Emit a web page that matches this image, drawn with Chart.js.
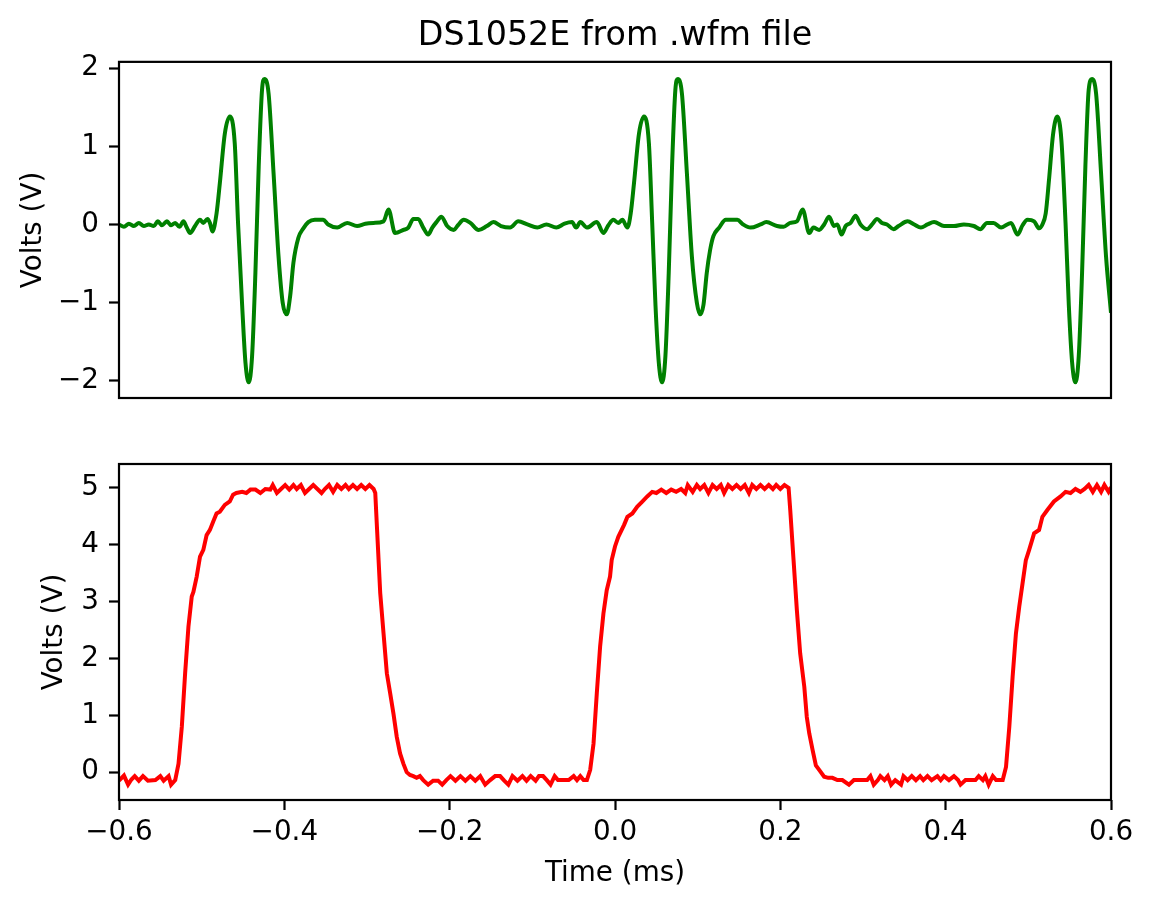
<!DOCTYPE html>
<html>
<head>
<meta charset="utf-8">
<script src="https://cdn.jsdelivr.net/npm/chart.js@4/dist/chart.umd.min.js"></script>
<style>
  body { margin: 0; background: #fff; }
  #wrap { position: relative; width: 1153px; height: 908px; }
  #top, #bottom { position: absolute; left: 0; }
  #top { top: 0; }
  #bottom { top: 431px; }
</style>
</head>
<body>
<div id="wrap">
  <canvas id="top" width="1153" height="431"></canvas>
  <canvas id="bottom" width="1153" height="477"></canvas>
</div>
<script>
// channel 1 (green), time in ms / volts
const timeCh1 = [
  -0.600,-0.594,-0.588,-0.582,-0.576,-0.570,-0.564,-0.558,-0.553,-0.548,
  -0.542,-0.537,-0.532,-0.527,-0.522,-0.518,-0.514,-0.508,-0.502,-0.498,
  -0.493,-0.490,-0.487,-0.482,-0.478,-0.472,-0.466,-0.460,-0.456,-0.451,
  -0.447,-0.443,-0.439,-0.435,-0.431,-0.427,-0.424,-0.419,-0.413,-0.407,
  -0.402,-0.397,-0.393,-0.389,-0.383,-0.377,-0.371,-0.363,-0.353,-0.347,
  -0.336,-0.324,-0.312,-0.302,-0.292,-0.280,-0.274,-0.266,-0.256,-0.250,
  -0.244,-0.238,-0.232,-0.226,-0.221,-0.216,-0.210,-0.203,-0.195,-0.190,
  -0.183,-0.175,-0.165,-0.155,-0.147,-0.138,-0.127,-0.117,-0.106,-0.094,
  -0.083,-0.071,-0.061,-0.052,-0.047,-0.042,-0.034,-0.022,-0.014,-0.008,
  -0.002,0.004,0.009,0.015,0.019,0.023,0.029,0.035,0.041,0.045,
  0.049,0.053,0.057,0.061,0.065,0.069,0.073,0.076,0.081,0.087,
  0.093,0.099,0.103,0.107,0.111,0.115,0.119,0.126,0.134,0.141,
  0.148,0.155,0.164,0.176,0.183,0.196,0.204,0.212,0.220,0.227,
  0.235,0.240,0.247,0.253,0.259,0.265,0.269,0.274,0.279,0.285,
  0.291,0.297,0.305,0.311,0.317,0.323,0.329,0.337,0.343,0.354,
  0.362,0.370,0.378,0.386,0.398,0.410,0.422,0.434,0.442,0.450,
  0.458,0.467,0.479,0.487,0.493,0.499,0.507,0.513,0.517,0.521,
  0.525,0.530,0.535,0.540,0.545,0.549,0.553,0.557,0.561,0.565,
  0.569,0.573,0.577,0.582,0.588,0.594,0.600
];
const voltsCh1 = [
  0.00,-0.03,0.01,-0.02,0.02,-0.02,0.00,-0.02,0.04,-0.01,
  0.04,-0.01,0.02,-0.03,0.04,-0.04,-0.11,-0.02,0.06,0.02,
  0.07,0.02,-0.09,0.14,0.53,1.16,1.38,1.04,0.02,-1.04,
  -1.77,-2.02,-1.68,-0.62,0.74,1.72,1.86,1.67,0.65,-0.41,
  -1.00,-1.15,-0.92,-0.49,-0.17,-0.05,0.03,0.06,0.06,0.00,
  -0.04,0.02,-0.02,0.01,0.02,0.04,0.19,-0.11,-0.07,-0.04,
  0.07,0.07,-0.04,-0.13,-0.04,0.03,0.10,-0.02,-0.07,-0.01,
  0.06,0.02,-0.07,-0.02,0.03,-0.02,-0.04,0.04,0.00,-0.04,
  0.00,-0.04,0.01,0.03,-0.04,0.03,-0.04,0.03,-0.11,-0.01,
  0.06,0.02,0.06,-0.04,0.14,0.53,1.16,1.38,1.04,0.02,
  -1.04,-1.77,-2.02,-1.68,-0.62,0.74,1.72,1.86,1.67,0.65,
  -0.41,-1.00,-1.15,-1.03,-0.62,-0.33,-0.15,-0.04,0.06,0.06,
  0.06,0.00,-0.04,0.00,0.03,-0.02,-0.03,0.02,0.04,0.19,
  -0.11,-0.04,-0.07,0.00,0.10,-0.02,0.00,-0.13,-0.02,0.02,
  0.11,0.00,-0.06,0.00,0.07,0.02,0.00,-0.06,-0.02,0.04,
  0.00,-0.04,0.00,0.03,-0.02,-0.02,0.00,-0.02,-0.06,0.02,
  0.02,-0.04,0.02,-0.13,-0.01,0.06,0.04,-0.05,0.00,0.14,
  0.57,1.16,1.38,1.08,0.02,-1.04,-1.77,-2.02,-1.68,-0.62,
  0.74,1.72,1.86,1.67,0.65,-0.41,-1.13
];

// channel 2 (red)
const timeCh2 = [
  -0.600,-0.594,-0.589,-0.585,-0.581,-0.576,-0.571,-0.565,-0.556,-0.550,
  -0.546,-0.540,-0.537,-0.532,-0.528,-0.524,-0.520,-0.516,-0.512,-0.510,
  -0.506,-0.502,-0.498,-0.494,-0.490,-0.486,-0.482,-0.478,-0.472,-0.466,
  -0.462,-0.458,-0.451,-0.446,-0.441,-0.435,-0.429,-0.423,-0.417,-0.414,
  -0.409,-0.404,-0.399,-0.394,-0.389,-0.385,-0.380,-0.375,-0.370,-0.365,
  -0.360,-0.355,-0.351,-0.346,-0.341,-0.336,-0.331,-0.326,-0.322,-0.317,
  -0.312,-0.307,-0.302,-0.297,-0.292,-0.290,-0.288,-0.284,-0.280,-0.276,
  -0.272,-0.268,-0.264,-0.260,-0.256,-0.252,-0.248,-0.244,-0.240,-0.236,
  -0.232,-0.226,-0.220,-0.214,-0.209,-0.204,-0.199,-0.193,-0.187,-0.181,
  -0.175,-0.169,-0.163,-0.157,-0.151,-0.145,-0.139,-0.134,-0.129,-0.124,
  -0.118,-0.112,-0.107,-0.102,-0.096,-0.092,-0.087,-0.082,-0.078,-0.073,
  -0.069,-0.062,-0.056,-0.050,-0.046,-0.042,-0.038,-0.034,-0.030,-0.026,
  -0.022,-0.018,-0.014,-0.010,-0.006,-0.004,0.000,0.004,0.011,0.015,
  0.021,0.027,0.033,0.039,0.045,0.050,0.056,0.062,0.068,0.074,
  0.080,0.085,0.088,0.094,0.099,0.103,0.108,0.113,0.118,0.123,
  0.128,0.132,0.137,0.142,0.147,0.152,0.157,0.162,0.166,0.171,
  0.176,0.181,0.186,0.191,0.195,0.200,0.205,0.210,0.212,0.216,
  0.220,0.224,0.229,0.232,0.235,0.239,0.243,0.247,0.253,0.258,
  0.263,0.269,0.275,0.283,0.289,0.297,0.305,0.309,0.313,0.318,
  0.321,0.326,0.330,0.334,0.339,0.346,0.349,0.354,0.359,0.364,
  0.369,0.373,0.378,0.383,0.390,0.394,0.398,0.404,0.410,0.415,
  0.418,0.424,0.430,0.436,0.440,0.445,0.448,0.452,0.457,0.461,
  0.469,0.473,0.477,0.481,0.485,0.489,0.493,0.497,0.501,0.507,
  0.513,0.517,0.523,0.531,0.539,0.545,0.551,0.557,0.563,0.568,
  0.573,0.578,0.583,0.588,0.592,0.597,0.600
];
const voltsCh2 = [
  -0.15,-0.06,-0.22,-0.13,-0.07,-0.15,-0.07,-0.15,-0.14,-0.07,
  -0.15,-0.07,-0.22,-0.14,0.15,0.80,1.74,2.56,3.09,3.17,
  3.44,3.79,3.91,4.17,4.26,4.41,4.55,4.58,4.70,4.76,
  4.88,4.91,4.93,4.91,4.97,4.97,4.91,4.98,4.97,5.05,
  4.91,4.98,5.05,4.97,5.05,4.98,5.05,4.91,4.98,5.05,
  4.98,4.91,4.98,5.05,4.93,5.05,4.98,5.05,4.98,5.05,
  4.98,5.05,4.98,5.05,4.98,4.91,4.32,3.15,2.44,1.74,
  1.39,1.03,0.62,0.33,0.15,0.00,-0.05,-0.07,-0.10,-0.07,
  -0.14,-0.22,-0.15,-0.15,-0.22,-0.14,-0.07,-0.15,-0.07,-0.15,
  -0.07,-0.15,-0.07,-0.22,-0.14,-0.07,-0.07,-0.15,-0.22,-0.07,
  -0.15,-0.07,-0.15,-0.07,-0.15,-0.07,-0.07,-0.15,-0.22,-0.07,
  -0.14,-0.14,-0.14,-0.07,-0.14,-0.07,-0.14,-0.14,0.04,0.50,
  1.39,2.21,2.79,3.20,3.44,3.73,3.97,4.14,4.35,4.49,
  4.55,4.67,4.76,4.85,4.93,4.91,4.97,4.91,4.97,4.93,
  4.98,4.91,5.05,4.93,5.05,4.98,5.05,4.91,5.05,4.98,
  5.05,4.91,5.05,4.98,5.05,4.98,5.05,4.91,5.05,4.98,
  5.05,4.98,5.05,4.98,5.05,4.98,5.05,5.00,4.61,3.73,
  2.85,2.09,1.50,0.97,0.68,0.39,0.12,0.04,-0.08,-0.10,
  -0.10,-0.14,-0.14,-0.22,-0.14,-0.14,-0.14,-0.07,-0.22,-0.14,
  -0.07,-0.14,-0.07,-0.22,-0.14,-0.22,-0.07,-0.14,-0.07,-0.14,
  -0.07,-0.14,-0.07,-0.14,-0.07,-0.14,-0.07,-0.14,-0.07,-0.14,
  -0.22,-0.14,-0.14,-0.14,-0.07,-0.14,-0.07,-0.22,-0.07,-0.14,
  -0.14,0.09,0.80,1.68,2.44,2.91,3.32,3.73,3.91,4.20,
  4.26,4.49,4.61,4.76,4.85,4.93,4.91,4.98,4.93,4.98,
  5.05,4.93,5.05,4.93,5.05,4.93,5.01
];

const timeLimits = [-0.6, 0.6];
const voltLimitsCh1 = [-2.22, 2.08];
const voltLimitsCh2 = [-0.49, 5.42];

Chart.defaults.font.family = 'DejaVu Sans';
Chart.defaults.color = '#000';

const fontTick = { size: 27.8 };
const minusFmt = v => (v < 0 ? '\u2212' : '') + Math.abs(v);

// box round the plot area, like matplotlib spines
const frame = {
  id: 'frame',
  afterDraw(chart) {
    const { ctx, chartArea: a } = chart;
    ctx.save();
    ctx.strokeStyle = '#000';
    ctx.lineWidth = 2.2;
    ctx.strokeRect(a.left, a.top, a.right - a.left, a.bottom - a.top);
    ctx.restore();
  }
};

function yAxis(limits, titlePad) {
  return {
    min: limits[0],
    max: limits[1],
    ticks: { stepSize: 1, includeBounds: false, font: fontTick, padding: 10, callback: minusFmt },
    grid: { drawOnChartArea: false, drawTicks: true, tickLength: 10, tickWidth: 2.2, tickColor: '#000' },
    border: { display: false },
    title: { display: true, text: 'Volts (V)', font: fontTick, padding: { top: titlePad } },
    afterFit: s => { s.width = 119; }
  };
}

new Chart(document.getElementById('top'), {
  type: 'line',
  data: {
    datasets: [{
      data: timeCh1.map((t, i) => ({ x: t, y: voltsCh1[i] })),
      borderColor: '#008000',
      borderWidth: 4,
      pointRadius: 0,
      cubicInterpolationMode: 'monotone'
    }]
  },
  options: {
    responsive: false,
    animation: false,
    devicePixelRatio: 1,
    layout: { padding: { left: 0, right: 42, top: 0, bottom: 33 } },
    plugins: {
      legend: { display: false },
      tooltip: { enabled: false },
      title: {
        display: true,
        text: 'DS1052E from .wfm file',
        font: { size: 33.3, weight: 'normal' },
        padding: { top: 16, bottom: 5.9 },
        fullSize: false
      }
    },
    scales: {
      x: { type: 'linear', min: timeLimits[0], max: timeLimits[1], display: false },
      y: yAxis(voltLimitsCh1, 17)
    }
  },
  plugins: [frame]
});

new Chart(document.getElementById('bottom'), {
  type: 'line',
  data: {
    datasets: [{
      data: timeCh2.map((t, i) => ({ x: t, y: voltsCh2[i] })),
      borderColor: '#ff0000',
      borderWidth: 4,
      pointRadius: 0,
      tension: 0
    }]
  },
  options: {
    responsive: false,
    animation: false,
    devicePixelRatio: 1,
    layout: { padding: { left: 0, right: 42, top: 33, bottom: 0 } },
    plugins: { legend: { display: false }, tooltip: { enabled: false } },
    scales: {
      x: {
        type: 'linear',
        min: timeLimits[0],
        max: timeLimits[1],
        ticks: {
          stepSize: 0.2, includeBounds: false, font: fontTick, padding: 6, maxRotation: 0, autoSkip: false,
          callback: v => (v < -1e-9 ? '\u2212' : '') + Math.abs(v).toFixed(1)
        },
        grid: { drawOnChartArea: false, drawTicks: true, tickLength: 10, tickWidth: 2.2, tickColor: '#000' },
        border: { display: false },
        title: { display: true, text: 'Time (ms)', font: fontTick, padding: { bottom: 18 } },
        afterFit: s => { s.height = 108; }
      },
      y: yAxis(voltLimitsCh2, 38)
    }
  },
  plugins: [frame]
});
</script>
</body>
</html>
